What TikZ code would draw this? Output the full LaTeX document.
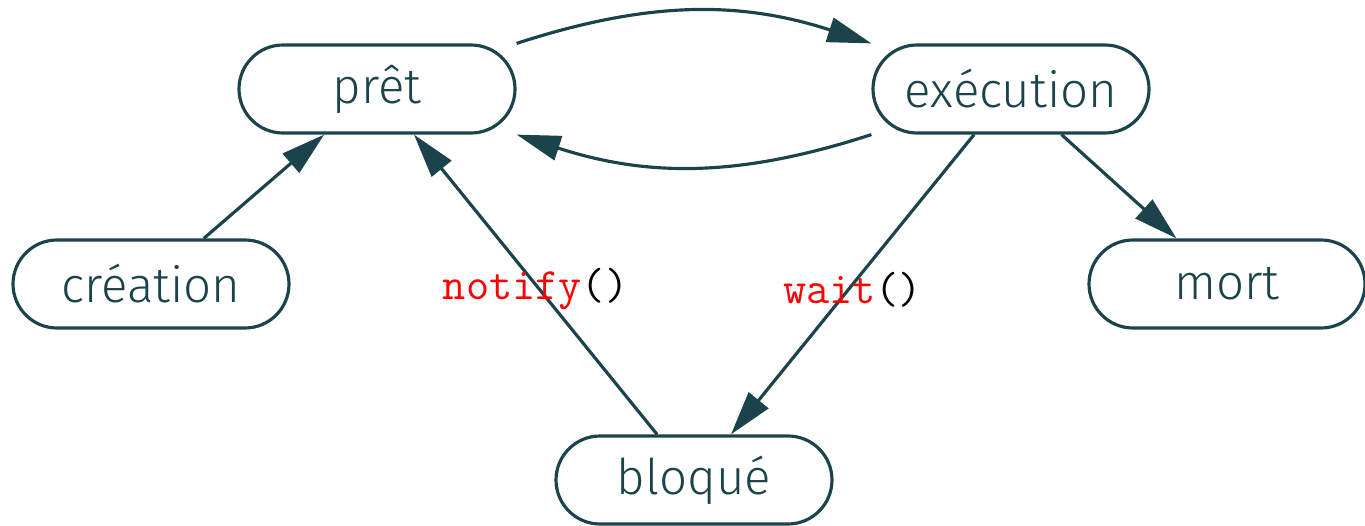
\documentclass[tikz,border=0pt]{standalone}
\usepackage{fontspec}
\usetikzlibrary{arrows.meta}
\newfontfamily\etatfont{Fira Sans Light}
\definecolor{sombre}{HTML}{1B434B}

\begin{document}
\begin{tikzpicture}[
    etat/.style={draw=sombre, text=sombre, line width=0.9pt, rounded corners=4.4mm,
      minimum width=2.76cm, minimum height=8.8mm, font=\etatfont\fontsize{14}{16}\selectfont},
    fleche/.style={draw=sombre, line width=0.9pt, -{Triangle[length=4.4mm,width=2.5mm]}},
    appel/.style={font=\ttfamily\fontsize{12.8}{15}\selectfont}]
			\useasboundingbox (0,0) rectangle (13.65,5.25);

			\node[etat] (pret) at (3.77,4.36) {prêt};
			\node[etat] (exec) at (10.11,4.36) {exécution};
			\node[etat] (creation) at (1.51,2.41) {création};
			\node[etat] (mort) at (12.27,2.41) {mort};
			\node[etat] (bloque) at (6.94,0.45) {bloqué};

			\draw[fleche] (creation) -- (pret);
			\draw[fleche] (pret.north east) to[bend left=18] (exec.north west);
			\draw[fleche] (exec.south west) to[bend left=18] (pret.south east);
			\draw[fleche] (exec) -- (mort);
			\draw[fleche] (exec) -- node[appel, yshift=-0.5mm] {\textcolor{red}{wait}()} (bloque);
			\draw[fleche] (bloque) -- node[appel, yshift=-0.5mm] {\textcolor{red}{notify}()} (pret);
		\end{tikzpicture}
\end{document}
